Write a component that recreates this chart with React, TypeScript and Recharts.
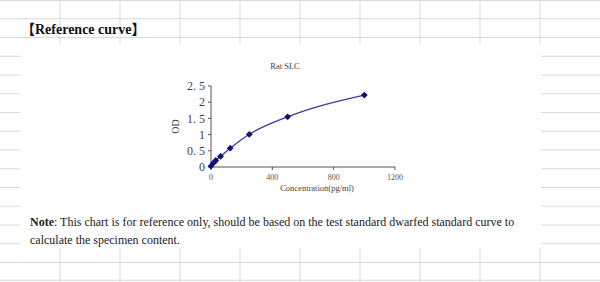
import { Label, Line, LineChart, XAxis, YAxis } from "recharts";

// standard curve points
const concentrations = [0, 15.6, 31.25, 62.5, 125, 250, 500, 1000];
const odValues = [0.03, 0.12, 0.2, 0.33, 0.58, 1.01, 1.55, 2.22];
const xTicks = [0, 400, 800, 1200];
const yTicks = [0, 0.5, 1, 1.5, 2, 2.5];

const data = concentrations.map((c, i) => ({ conc: c, od: odValues[i] }));

const LINE_COLOR = "#3a3aa0";
const DOT_COLOR = "#10107a";
const GRID_COLOR = "#d5d9e1";
const SERIF = "'Liberation Serif', 'Times New Roman', serif";

const ROW = 18.75;

function SheetGrid() {
  const cols = [60, 120, 180, 240, 300, 360, 420, 480, 540];
  const sideRows = [3, 4, 5, 6, 7, 8, 9, 10, 11, 12, 13].map((k) => k * ROW);
  return (
    <svg
      width={600}
      height={282}
      style={{ position: "absolute", left: 0, top: 0 }}
    >
      <g stroke={GRID_COLOR} strokeWidth={1}>
        {[0.5, ROW, 2 * ROW, 14 * ROW, 15 * ROW - 1].map((y) => (
          <line key={"h" + y} x1={0} x2={600} y1={y} y2={y} />
        ))}
        {cols.map((x) => (
          <line key={"t" + x} x1={x} x2={x} y1={0} y2={44} />
        ))}
        {cols.map((x) => (
          <line key={"b" + x} x1={x} x2={x} y1={248} y2={282} />
        ))}
        {sideRows.map((y) => (
          <g key={"s" + y}>
            <line x1={0} x2={20} y1={y} y2={y} />
            <line x1={541} x2={600} y1={y} y2={y} />
          </g>
        ))}
      </g>
    </svg>
  );
}

function Diamond(props: any) {
  const { cx, cy, index } = props;
  if (cx == null || cy == null) return <g key={index} />;
  const r = 3.4;
  return (
    <path
      key={index}
      d={`M${cx},${cy - r}L${cx + r},${cy}L${cx},${cy + r}L${cx - r},${cy}Z`}
      fill={DOT_COLOR}
    />
  );
}

export default function App() {
  return (
    <div
      style={{
        position: "absolute",
        left: 0,
        top: 0,
        width: 600,
        height: 282,
        background: "#fff",
        overflow: "hidden",
        fontFamily: SERIF,
      }}
    >
      <SheetGrid />
      <div
        style={{
          position: "absolute",
          left: 21,
          top: 21,
          fontSize: 14,
          lineHeight: "18px",
          fontWeight: "bold",
          color: "#111",
          fontFamily: "'Liberation Serif', 'Noto Sans CJK SC', serif",
          whiteSpace: "nowrap",
        }}
      >
        【Reference curve】
      </div>

      <div
        style={{
          position: "absolute",
          left: 245,
          top: 61,
          width: 80,
          textAlign: "center",
          fontSize: 8.5,
          color: "#444",
        }}
      >
        Rat SLC
      </div>

      <div style={{ position: "absolute", left: 150, top: 55 }}>
        <LineChart
          width={260}
          height={145}
          data={data}
          margin={{ top: 31, right: 15, bottom: 0, left: 0 }}
        >
          <XAxis
            dataKey="conc"
            type="number"
            domain={[0, 1200]}
            ticks={xTicks}
            interval={0}
            height={33}
            stroke="#555"
            tickSize={3}
            tickMargin={4}
            tick={{ fontSize: 8, fill: "#555", fontFamily: SERIF }}
          >
            <Label
              value="Concentration(pg/ml)"
              position="insideBottom"
              offset={9}
              dx={14}
              style={{ fontSize: 8.5, fill: "#444", fontFamily: SERIF }}
            />
          </XAxis>
          <YAxis
            type="number"
            domain={[0, 2.5]}
            ticks={yTicks}
            interval={0}
            width={61}
            stroke="#555"
            tickSize={3}
            tickMargin={3}
            tickFormatter={(v: number) => String(v).replace(".", ". ")}
            tick={{ fontSize: 12, fill: "#444", fontFamily: SERIF }}
          >
            <Label
              value="OD"
              angle={-90}
              position="insideLeft"
              offset={25}
              style={{
                fontSize: 10,
                fill: "#444",
                fontFamily: SERIF,
                textAnchor: "middle",
              }}
            />
          </YAxis>
          <Line
            dataKey="od"
            type="monotone"
            stroke={LINE_COLOR}
            strokeWidth={1.3}
            dot={Diamond}
            activeDot={false}
            isAnimationActive={false}
          />
        </LineChart>
      </div>

      <div
        style={{
          position: "absolute",
          left: 30,
          top: 213,
          fontSize: 12,
          lineHeight: "18px",
          color: "#222",
          whiteSpace: "nowrap",
        }}
      >
        <b>Note</b>: This chart is for reference only, should be based on the
        test standard dwarfed standard curve to
        <br />
        calculate the specimen content.
      </div>
    </div>
  );
}
